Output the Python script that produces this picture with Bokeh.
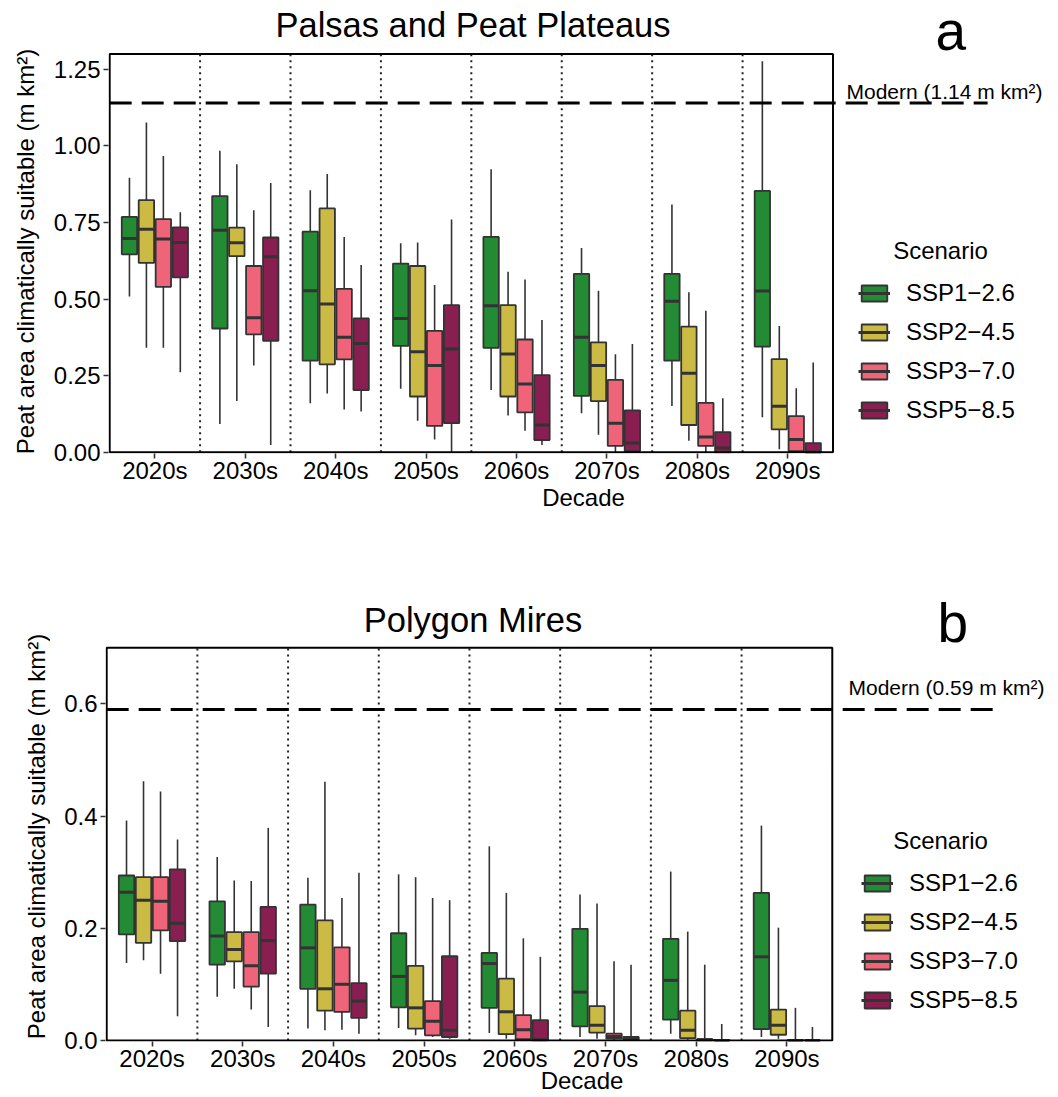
import math
from bokeh.plotting import figure
from bokeh.models import (ColumnDataSource, Range1d, FixedTicker, Label, Legend, LegendItem,
                          NumeralTickFormatter)
from bokeh.layouts import column, row
from bokeh.embed import file_html
from bokeh.resources import INLINE

# ---------------- data ----------------
DECADES = ["2020s", "2030s", "2040s", "2050s", "2060s", "2070s", "2080s", "2090s"]
SCENARIOS = ["SSP1\u22122.6", "SSP2\u22124.5", "SSP3\u22127.0", "SSP5\u22128.5"]
COLORS = ["#228B34", "#CBBA44", "#EF6478", "#891F51"]

MODERN_A = 1.14
MODERN_B = 0.59

# Panel a: Palsas and Peat Plateaus  (lower whisker, q1, median, q3, upper whisker) per decade
A_SSP126_LO = [0.508, 0.092, 0.160, 0.207, 0.203, 0.127, 0.151, 0.114]
A_SSP126_Q1 = [0.646, 0.404, 0.299, 0.347, 0.341, 0.184, 0.299, 0.345]
A_SSP126_MED = [0.698, 0.725, 0.527, 0.437, 0.478, 0.375, 0.493, 0.526]
A_SSP126_Q3 = [0.768, 0.836, 0.720, 0.616, 0.703, 0.582, 0.582, 0.853]
A_SSP126_HI = [0.896, 0.984, 0.855, 0.682, 0.924, 0.667, 0.809, 1.276]

A_SSP245_LO = [0.341, 0.167, 0.192, 0.103, 0.120, 0.057, 0.038, 0.010]
A_SSP245_Q1 = [0.618, 0.640, 0.287, 0.182, 0.182, 0.167, 0.089, 0.075]
A_SSP245_MED = [0.728, 0.684, 0.484, 0.328, 0.321, 0.283, 0.258, 0.150]
A_SSP245_Q3 = [0.823, 0.733, 0.796, 0.608, 0.480, 0.359, 0.410, 0.304]
A_SSP245_HI = [1.076, 0.940, 0.908, 0.685, 0.589, 0.527, 0.522, 0.412]

A_SSP370_LO = [0.341, 0.283, 0.140, 0.042, 0.070, 0.000, 0.000, 0.000]
A_SSP370_Q1 = [0.540, 0.385, 0.303, 0.086, 0.130, 0.021, 0.021, 0.004]
A_SSP370_MED = [0.696, 0.439, 0.375, 0.283, 0.223, 0.095, 0.050, 0.042]
A_SSP370_Q3 = [0.761, 0.608, 0.533, 0.396, 0.368, 0.236, 0.161, 0.118]
A_SSP370_HI = [0.967, 0.790, 0.703, 0.546, 0.564, 0.320, 0.462, 0.209]

A_SSP585_LO = [0.261, 0.024, 0.133, 0.000, 0.024, 0.000, 0.000, 0.000]
A_SSP585_Q1 = [0.571, 0.364, 0.203, 0.095, 0.040, 0.004, 0.000, 0.000]
A_SSP585_MED = [0.685, 0.638, 0.355, 0.337, 0.089, 0.030, 0.014, 0.001]
A_SSP585_Q3 = [0.734, 0.701, 0.437, 0.480, 0.252, 0.137, 0.066, 0.030]
A_SSP585_HI = [0.783, 0.879, 0.611, 0.760, 0.432, 0.353, 0.176, 0.293]

# Panel b: Polygon Mires
B_SSP126_LO = [0.138, 0.078, 0.021, 0.022, 0.013, 0.006, 0.012, 0.006]
B_SSP126_Q1 = [0.189, 0.135, 0.092, 0.059, 0.058, 0.025, 0.037, 0.020]
B_SSP126_MED = [0.264, 0.186, 0.165, 0.114, 0.137, 0.086, 0.107, 0.149]
B_SSP126_Q3 = [0.294, 0.248, 0.242, 0.191, 0.156, 0.199, 0.181, 0.263]
B_SSP126_HI = [0.392, 0.327, 0.290, 0.296, 0.346, 0.260, 0.301, 0.383]

B_SSP245_LO = [0.143, 0.092, 0.018, 0.009, 0.003, 0.003, 0.001, 0.003]
B_SSP245_Q1 = [0.174, 0.141, 0.053, 0.021, 0.011, 0.014, 0.004, 0.010]
B_SSP245_MED = [0.250, 0.162, 0.092, 0.058, 0.051, 0.027, 0.018, 0.027]
B_SSP245_Q3 = [0.291, 0.193, 0.214, 0.133, 0.110, 0.061, 0.053, 0.055]
B_SSP245_HI = [0.462, 0.285, 0.461, 0.291, 0.263, 0.244, 0.194, 0.201]

B_SSP370_LO = [0.119, 0.055, 0.019, 0.006, 0.000, 0.000, 0.000, 0.000]
B_SSP370_Q1 = [0.196, 0.096, 0.051, 0.009, 0.002, 0.003, 0.000, 0.000]
B_SSP370_MED = [0.248, 0.133, 0.100, 0.034, 0.019, 0.007, 0.001, 0.000]
B_SSP370_Q3 = [0.291, 0.193, 0.166, 0.070, 0.045, 0.012, 0.002, 0.001]
B_SSP370_HI = [0.444, 0.284, 0.254, 0.254, 0.182, 0.141, 0.135, 0.058]

B_SSP585_LO = [0.043, 0.024, 0.012, 0.003, 0.000, 0.000, 0.000, 0.000]
B_SSP585_Q1 = [0.177, 0.119, 0.040, 0.006, 0.000, 0.001, 0.000, 0.000]
B_SSP585_MED = [0.209, 0.178, 0.070, 0.018, 0.001, 0.003, 0.000, 0.000]
B_SSP585_Q3 = [0.305, 0.238, 0.102, 0.150, 0.036, 0.006, 0.001, 0.000]
B_SSP585_HI = [0.358, 0.379, 0.299, 0.250, 0.149, 0.135, 0.029, 0.024]

A_STATS = [
    (A_SSP126_LO, A_SSP126_Q1, A_SSP126_MED, A_SSP126_Q3, A_SSP126_HI),
    (A_SSP245_LO, A_SSP245_Q1, A_SSP245_MED, A_SSP245_Q3, A_SSP245_HI),
    (A_SSP370_LO, A_SSP370_Q1, A_SSP370_MED, A_SSP370_Q3, A_SSP370_HI),
    (A_SSP585_LO, A_SSP585_Q1, A_SSP585_MED, A_SSP585_Q3, A_SSP585_HI),
]
B_STATS = [
    (B_SSP126_LO, B_SSP126_Q1, B_SSP126_MED, B_SSP126_Q3, B_SSP126_HI),
    (B_SSP245_LO, B_SSP245_Q1, B_SSP245_MED, B_SSP245_Q3, B_SSP245_HI),
    (B_SSP370_LO, B_SSP370_Q1, B_SSP370_MED, B_SSP370_Q3, B_SSP370_HI),
    (B_SSP585_LO, B_SSP585_Q1, B_SSP585_MED, B_SSP585_Q3, B_SSP585_HI),
]

Y_TICKS_A = [0.0, 0.25, 0.5, 0.75, 1.0, 1.25]
Y_TICKS_B = [0.0, 0.2, 0.4, 0.6]
Y_MAX_A = 1.30
Y_MAX_B = 0.70
Y_LABEL = "Peat area climatically suitable (m km\u00b2)"

# ---------------- style ----------------
FONT = "Liberation Sans"
DODGE = 0.1875
BOX_W = 0.17
EDGE = "#333333"
PX_PER_UNIT_X = 90.7
STRIP_W = 50
MAIN_W = 1058 - STRIP_W
LEFT_B = 55
FRAME_W = MAIN_W - LEFT_B
X_START = 0.487
X_END = X_START + FRAME_W / PX_PER_UNIT_X
BASE_FIX = 0.36  # baseline compensation (fraction of font size)


def ylabel_strip(height, bottom_b, label_x, label_y):
    frame_h = height - bottom_b
    s = figure(width=STRIP_W, height=height, output_backend="svg", toolbar_location=None,
               x_range=Range1d(0, STRIP_W), y_range=Range1d(0, frame_h),
               x_axis_type=None, y_axis_type=None, min_border_left=0, min_border_right=0,
               min_border_top=0, min_border_bottom=bottom_b,
               outline_line_color=None, background_fill_color="white",
               border_fill_color="white")
    s.grid.visible = False
    s.add_layout(Label(x=label_x, y=label_y, text=Y_LABEL, angle=math.pi / 2,
                       text_font=FONT, text_font_size="24px", text_align="center",
                       text_baseline="middle", text_color="black"))
    return s


def make_panel(stats, modern, y_max, y_ticks, y_fmt, height, bottom_b, px_per_y, ypad,
               modern_end, modern_yoff, scen_xy, leg_xy, modern_x, title, title_xy,
               letter, letter_xy, xlab_standoff):
    frame_h = height - bottom_b
    p = figure(width=MAIN_W, height=height, output_backend="svg", toolbar_location=None,
               x_range=Range1d(X_START, X_END),
               y_range=Range1d(-ypad, -ypad + frame_h / px_per_y),
               min_border_left=LEFT_B, min_border_right=0, min_border_top=0,
               min_border_bottom=bottom_b, background_fill_color="white",
               border_fill_color="white", outline_line_color=None)
    p.grid.visible = False

    n = len(DECADES)
    centers = list(range(1, n + 1))

    # decade separators
    seps = [c + 0.5 for c in centers[:-1]]
    p.segment(x0=seps, x1=seps, y0=[0] * len(seps), y1=[y_max] * len(seps),
              line_color="#222222", line_width=2, line_dash="2 4")

    legend_items = []
    for si, (lo, q1, med, q3, hi) in enumerate(stats):
        off = (si - 1.5) * DODGE
        xs = [c + off for c in centers]
        src = ColumnDataSource(dict(x=xs, lo=lo, q1=q1, med=med, q3=q3, hi=hi,
                                    xl=[x - BOX_W / 2 for x in xs],
                                    xr=[x + BOX_W / 2 for x in xs]))
        p.segment(x0="x", x1="x", y0="lo", y1="hi", source=src, line_color=EDGE,
                  line_width=1.6)
        rb = p.vbar(x="x", width=BOX_W, bottom="q1", top="q3", source=src,
                    fill_color=COLORS[si], line_color=EDGE, line_width=1.8)
        rm = p.segment(x0="xl", x1="xr", y0="med", y1="med", source=src,
                       line_color=EDGE, line_width=3)
        legend_items.append(LegendItem(label=SCENARIOS[si], renderers=[rb, rm]))

    # modern reference line
    p.segment(x0=[0.5], x1=[modern_end], y0=[modern], y1=[modern], line_color="black",
              line_width=3, line_dash="22 10")

    # panel border
    p.quad(left=[0.5], right=[n + 0.5], bottom=[0], top=[y_max], fill_color=None,
           line_color="black", line_width=2)

    # axes
    p.xaxis.ticker = FixedTicker(ticks=centers)
    p.xaxis.major_label_overrides = {c: d for c, d in zip(centers, DECADES)}
    p.yaxis.ticker = FixedTicker(ticks=y_ticks)
    p.yaxis.formatter = NumeralTickFormatter(format=y_fmt)
    for ax in (p.xaxis[0], p.yaxis[0]):
        ax.axis_line_color = None
        ax.major_tick_line_color = EDGE
        ax.major_tick_line_width = 1.6
        ax.major_tick_out = 5
        ax.major_tick_in = 0
        ax.minor_tick_line_color = None
        ax.major_label_text_font = FONT
        ax.major_label_text_font_size = "24px"
        ax.major_label_text_color = "black"
        ax.axis_label_text_font = FONT
        ax.axis_label_text_font_size = "24px"
        ax.axis_label_text_font_style = "normal"
        ax.axis_label_text_color = "black"
    p.xaxis.major_label_standoff = -2
    p.yaxis.major_label_standoff = 3
    p.xaxis.axis_label = "Decade"
    p.xaxis.axis_label_standoff = xlab_standoff

    # texts inside the (extended) frame
    p.add_layout(Label(x=title_xy[0], y=title_xy[1] + BASE_FIX * 34.5, x_units="screen",
                       y_units="screen", text=title, text_font=FONT,
                       text_font_size="34.5px", text_align="center",
                       text_baseline="alphabetic", text_color="black"))
    p.add_layout(Label(x=letter_xy[0], y=letter_xy[1] + BASE_FIX * 55, x_units="screen",
                       y_units="screen", text=letter, text_font=FONT,
                       text_font_size="55px", text_align="left",
                       text_baseline="alphabetic", text_color="black"))
    p.add_layout(Label(x=modern_x, y=modern, x_units="screen", y_units="data",
                       y_offset=modern_yoff + BASE_FIX * 21,
                       text="Modern (%.2f m km\u00b2)" % modern, text_font=FONT,
                       text_font_size="21px", text_align="left",
                       text_baseline="alphabetic", text_color="black"))
    p.add_layout(Label(x=scen_xy[0], y=scen_xy[1] + BASE_FIX * 24, x_units="screen",
                       y_units="screen", text="Scenario", text_font=FONT,
                       text_font_size="24px", text_align="center",
                       text_baseline="alphabetic", text_color="black"))

    legend = Legend(items=legend_items, location=leg_xy, orientation="vertical",
                    glyph_width=32, glyph_height=20, label_height=20, spacing=11,
                    padding=0, margin=0, border_line_color=None, background_fill_alpha=0,
                    label_standoff=16, label_text_font=FONT, label_text_font_size="24px",
                    label_text_color="black")
    p.add_layout(legend)
    return p


# panel a: canvas rows 0..548, frame 0..453
pa = make_panel(A_STATS, MODERN_A, Y_MAX_A, Y_TICKS_A, "0.00", height=548, bottom_b=95,
                px_per_y=306.4, ypad=0.004, modern_end=10.21, modern_yoff=4,
                scen_xy=(832, 194), leg_xy=(750, 29), modern_x=738,
                title="Palsas and Peat Plateaus", title_xy=(364.5, 416),
                letter="a", letter_xy=(827, 403), xlab_standoff=-3)
ya = ylabel_strip(548, 95, 25, 453 - 251)

# panel b: canvas rows 548..1097, frame 548..1041
pb = make_panel(B_STATS, MODERN_B, Y_MAX_B, Y_TICKS_B, "0.0", height=549, bottom_b=56,
                px_per_y=560.8, ypad=0.002, modern_end=10.32, modern_yoff=14,
                scen_xy=(835, 192), leg_xy=(756, 27), modern_x=743,
                title="Polygon Mires", title_xy=(367.5, 409),
                letter="b", letter_xy=(832, 399), xlab_standoff=-8)
yb = ylabel_strip(549, 56, 36, 1041 - 836)

layout = column(row(ya, pa, spacing=0), row(yb, pb, spacing=0), spacing=0)
open("out.html", "w").write(file_html(layout, INLINE))
